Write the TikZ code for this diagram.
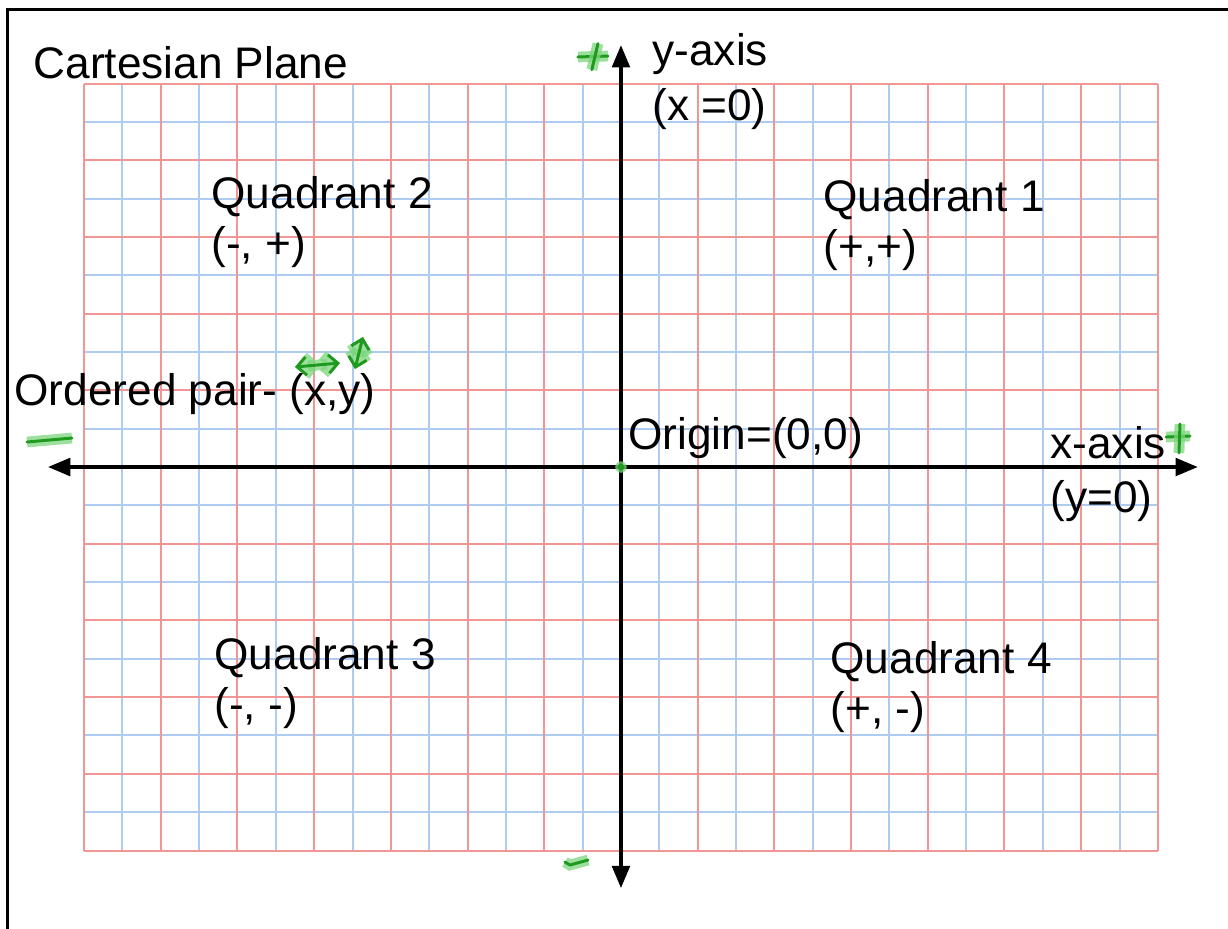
\documentclass[tikz,border=0pt]{standalone}
\usepackage{fontspec}
\setmainfont{Liberation Sans}
\usetikzlibrary{arrows.meta}
\definecolor{gridred}{HTML}{F29595}
\definecolor{gridblue}{HTML}{AECBF2}
\definecolor{penDark}{HTML}{1E9A1E}
\definecolor{penLight}{HTML}{7CD67C}
\tikzset{
  gridminor/.style={gridblue, line width=0.75pt},
  gridmajor/.style={gridred, line width=0.75pt},
  axis/.style={line width=1.3pt, {Triangle[length=2.9mm,width=2.3mm]}-{Triangle[length=2.9mm,width=2.3mm]}},
  lbl/.style={anchor=base west, inner sep=0pt, align=left, font=\fontsize{16.4}{18.6}\selectfont},
  marker/.style={draw=penDark, line width=1.1pt, line cap=round, line join=round,
    preaction={draw=penLight, line width=4pt, opacity=0.75}}
}
\begin{document}
\begin{tikzpicture}
  \useasboundingbox (-8.096,-6.010) rectangle (7.914,6.089);
  % frame, only left and top edge in view
  \draw[line width=1.1pt] (-7.992,-6.1) -- (-7.992,5.971) -- (8,5.971);

  % graph paper
  \draw[gridminor, step=0.5] (-7,-5) grid (7,5);
  \draw[gridmajor, step=1] (-7,-5) grid (7,5);

  % axes
  \coordinate (O) at (0,0);
  \coordinate (xl) at (-7.47,0);
  \coordinate (xr) at (7.52,0);
  \coordinate (yt) at (0,5.50);
  \coordinate (yb) at (0,-5.49);
  \draw[axis] (xl) -- (xr);
  \draw[axis] (yb) -- (yt);

  % labels (two-line ones sit on their last baseline)
  \node[lbl] (title) at (-7.666,5.059) {Cartesian Plane};
  \node[lbl] (ylbl) at (0.404,4.517) {y-axis\\[2pt](x =0)};
  \node[lbl] (xlbl) at (5.593,-0.590) {x-axis\\[1.5pt](y=0)};
  \node[lbl] (q1) at (2.634,2.684) {Quadrant 1\\(+,+)};
  \node[lbl] (q2) at (-5.345,2.723) {Quadrant 2\\(-, +)};
  \node[lbl] (q3) at (-5.306,-3.288) {Quadrant 3\\(-, -)};
  \node[lbl] (q4) at (2.725,-3.340) {Quadrant 4\\(+, -)};
  \node[lbl] (pair) at (-7.914,0.808) {Ordered pair- (x,y)};
  \node[lbl] (orig) at (0.09,0.222) {Origin=(0,0)};

  % pen marks
  \fill[penLight, opacity=0.75] (O) circle (0.075);
  \fill[penDark] (O) circle (0.045);
  \draw[marker] (-0.561,5.346) -- (-0.169,5.358);
  \draw[marker] (-0.30,5.52) .. controls (-0.33,5.35) .. (-0.38,5.18);
  \draw[marker] (7.106,0.391) -- (7.419,0.404);
  \draw[marker] (7.288,0.561) -- (7.275,0.183);
  \draw[marker] (-7.744,0.326) -- (-7.158,0.378);
  \draw[marker] (-0.730,-5.150) -- (-0.665,-5.189) -- (-0.430,-5.124);
  \draw[marker, {Straight Barb[length=1.2mm]}-{Straight Barb[length=1.2mm]}] (-4.250,1.304) -- (-3.664,1.356);
  \draw[marker, {Straight Barb[length=1.2mm]}-{Straight Barb[length=1.2mm]}] (-3.364,1.695) -- (-3.468,1.278);
\end{tikzpicture}
\end{document}
